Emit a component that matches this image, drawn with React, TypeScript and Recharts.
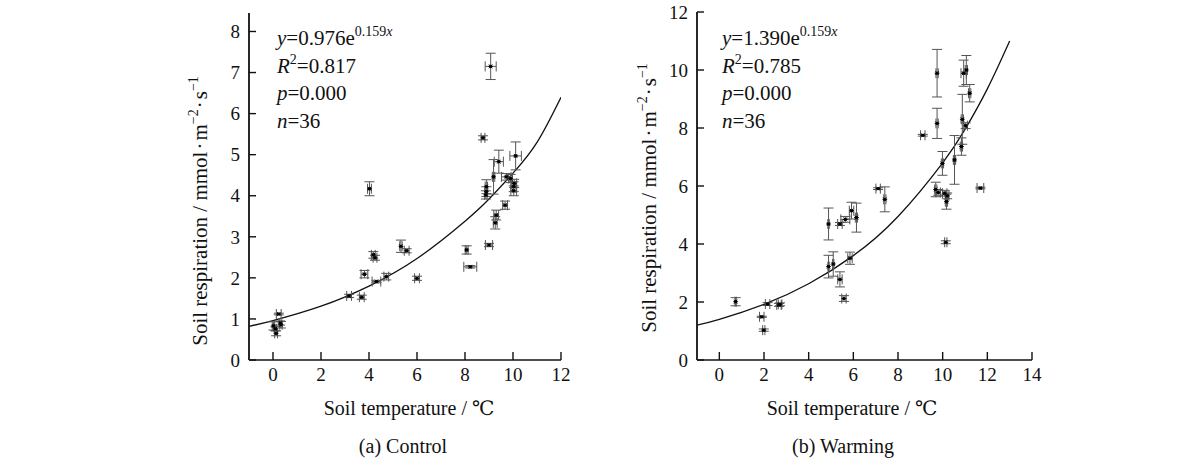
import React from "react";
import {
  ComposedChart,
  Scatter,
  Line,
  XAxis,
  YAxis,
  ErrorBar,
} from "recharts";

// (a) Control – soil temperature (°C) and soil respiration, with error bars
const ctrlTemp = [9.07, 8.75, 9.41, 10.11, 9.19, 8.89, 8.89, 8.87, 9.72, 9.9, 10.03, 10.03, 9.67, 9.3, 9.26, 9.0, 8.07, 8.22,
  4.02, 5.33, 5.57, 4.18, 4.25, 3.81, 4.72, 4.31, 6.0, 3.17, 3.7, 0.24, 0.02, 0.33, 0.13, 0.1, 0.3, 10.05];
const ctrlResp = [7.15, 5.41, 4.83, 4.97, 4.46, 4.22, 4.1, 4.02, 4.46, 4.42, 4.22, 4.12, 3.77, 3.53, 3.34, 2.8, 2.68, 2.27,
  4.17, 2.77, 2.66, 2.56, 2.49, 2.09, 2.03, 1.91, 1.99, 1.56, 1.53, 1.12, 0.83, 0.86, 0.65, 0.76, 0.9, 4.3];
const ctrlTempErr = [0.23, 0.08, 0.19, 0.24, 0.05, 0.05, 0.05, 0.05, 0.2, 0.08, 0.12, 0.12, 0.1, 0.1, 0.08, 0.15, 0.06, 0.27,
  0.08, 0.05, 0.1, 0.08, 0.08, 0.14, 0.1, 0.18, 0.1, 0.1, 0.1, 0.1, 0.05, 0.05, 0.06, 0.05, 0.04, 0.1];
const ctrlRespErr = [0.32, 0.05, 0.28, 0.34, 0.42, 0.17, 0.12, 0.1, 0.08, 0.1, 0.12, 0.12, 0.1, 0.12, 0.15, 0.04, 0.1, 0.03,
  0.17, 0.15, 0.05, 0.08, 0.06, 0.09, 0.08, 0.03, 0.05, 0.04, 0.05, 0.02, 0.1, 0.08, 0.06, 0.05, 0.05, 0.1];
const ctrlCurveT = [-1, 0, 2, 4, 6, 8, 9, 10, 11, 12];
const ctrlCurveR = [0.82, 0.96, 1.31, 1.8, 2.47, 3.38, 3.92, 4.55, 5.3, 6.4];

// (b) Warming
const warmTemp = [9.75, 9.75, 9.11, 11.06, 10.94, 11.21, 10.88, 11.03, 10.84, 10.53, 9.99, 11.69, 9.69, 9.8, 10.09, 10.2, 10.17, 10.14,
  7.11, 7.41, 0.73, 2.16, 2.67, 2.72, 1.9, 1.99, 4.89, 5.4, 5.64, 5.92, 6.14, 4.89, 5.1, 5.4, 5.58, 5.85];
const warmResp = [9.89, 8.16, 7.75, 10.0, 9.89, 9.2, 8.3, 8.08, 7.36, 6.9, 6.78, 5.93, 5.88, 5.78, 5.75, 5.66, 5.46, 4.06,
  5.91, 5.54, 2.01, 1.93, 1.9, 1.92, 1.49, 1.03, 4.69, 4.69, 4.85, 5.15, 4.91, 3.22, 3.31, 2.78, 2.12, 3.51];
const warmTempErr = [0.05, 0.05, 0.1, 0.05, 0.12, 0.05, 0.05, 0.08, 0.05, 0.05, 0.05, 0.15, 0.05, 0.1, 0.1, 0.08, 0.05, 0.05,
  0.1, 0.05, 0.03, 0.1, 0.1, 0.08, 0.1, 0.05, 0.03, 0.1, 0.2, 0.1, 0.05, 0.03, 0.03, 0.1, 0.1, 0.1];
const warmRespErr = [0.82, 0.52, 0.03, 0.5, 0.45, 0.3, 0.86, 0.1, 0.3, 0.84, 0.41, 0.03, 0.25, 0.1, 0.1, 0.1, 0.26, 0.05,
  0.03, 0.43, 0.14, 0.05, 0.05, 0.05, 0.02, 0.04, 0.55, 0.05, 0.1, 0.29, 0.5, 0.39, 0.42, 0.26, 0.1, 0.21];
const warmCurveT = [-1, 0, 2, 4, 6, 8, 10, 11, 12, 13];
const warmCurveR = [1.2, 1.4, 1.92, 2.63, 3.6, 4.95, 6.8, 7.95, 9.35, 11.0];

const ctrlXTicks = [0, 2, 4, 6, 8, 10, 12];
const ctrlYTicks = [0, 1, 2, 3, 4, 5, 6, 7, 8];
const warmXTicks = [0, 2, 4, 6, 8, 10, 12, 14];
const warmYTicks = [0, 2, 4, 6, 8, 10, 12];

const ctrlStats = ["0.976", "0.817", "0.000", "36"];
const warmStats = ["1.390", "0.785", "0.000", "36"];

const FONT = "Liberation Serif, Times New Roman, Tinos, DejaVu Serif, serif";

const toPoints = (t: number[], r: number[], et: number[], er: number[]) =>
  t.map((x, i) => ({ x, y: r[i], ex: et[i], ey: er[i] }));
const toCurve = (t: number[], r: number[]) => t.map((x, i) => ({ x, y: r[i] }));

const Marker = (props: any) => {
  const { cx, cy } = props;
  if (cx == null || cy == null) return null;
  const s = 2.4;
  return (
    <g>
      <path
        d={`M${cx - s},${cy}L${cx + s},${cy}M${cx - s * 0.7},${cy - s * 0.8}L${cx + s * 0.7},${cy + s * 0.8}M${cx - s * 0.7},${cy + s * 0.8}L${cx + s * 0.7},${cy - s * 0.8}`}
        stroke="#111"
        strokeWidth={1}
      />
      <circle cx={cx} cy={cy} r={1.6} fill="#000" />
    </g>
  );
};

type PanelProps = {
  points: { x: number; y: number; ex: number; ey: number }[];
  curve: { x: number; y: number }[];
  xDomain: [number, number];
  yDomain: [number, number];
  xTicks: number[];
  yTicks: number[];
  margin: { top: number; right: number; bottom: number; left: number };
};

function Panel({ points, curve, xDomain, yDomain, xTicks, yTicks, margin }: PanelProps) {
  const tickStyle = { fontSize: 19, fill: "#111", style: { fontFamily: FONT } };
  return (
    <ComposedChart width={600} height={465} margin={margin} style={{ fontFamily: FONT }}>
      <XAxis
        type="number"
        dataKey="x"
        domain={xDomain}
        ticks={xTicks}
        allowDataOverflow
        height={30}
        axisLine={{ stroke: "#111", strokeWidth: 1.6 }}
        tickLine={{ stroke: "#111", strokeWidth: 1.4 }}
        tickSize={-8}
        tickMargin={16}
        tick={tickStyle}
        interval={0}
      />
      <YAxis
        type="number"
        dataKey="y"
        domain={yDomain}
        ticks={yTicks}
        allowDataOverflow
        width={40}
        axisLine={{ stroke: "#111", strokeWidth: 1.8 }}
        tickLine={{ stroke: "#111", strokeWidth: 1.4 }}
        tickSize={-7}
        tickMargin={16}
        tick={tickStyle}
        interval={0}
      />
      <Line
        data={curve}
        dataKey="y"
        type="natural"
        stroke="#111"
        strokeWidth={1.3}
        dot={false}
        activeDot={false}
        isAnimationActive={false}
      />
      <Scatter data={points} dataKey="y" shape={<Marker />} isAnimationActive={false}>
        <ErrorBar dataKey="ey" direction="y" width={5} stroke="#555" strokeWidth={1} isAnimationActive={false} />
        <ErrorBar dataKey="ex" direction="x" width={5} stroke="#555" strokeWidth={1} isAnimationActive={false} />
      </Scatter>
    </ComposedChart>
  );
}

function Stats({ x, y, vals }: { x: number; y: number; vals: string[] }) {
  const gap = 27.5;
  return (
    <text x={x} y={y} style={{ fontFamily: FONT, fontSize: 21 }} fill="#111">
      <tspan x={x} y={y}>
        <tspan fontStyle="italic">y</tspan>={vals[0]}e
        <tspan fontSize={14} dy={-9}>0.159</tspan>
        <tspan fontSize={14} fontStyle="italic">x</tspan>
      </tspan>
      <tspan x={x} y={y + gap}>
        <tspan fontStyle="italic">R</tspan>
        <tspan fontSize={14} dy={-9}>2</tspan>
        <tspan dy={9}>={vals[1]}</tspan>
      </tspan>
      <tspan x={x} y={y + gap * 2}>
        <tspan fontStyle="italic">p</tspan>={vals[2]}
      </tspan>
      <tspan x={x} y={y + gap * 3}>
        <tspan fontStyle="italic">n</tspan>={vals[3]}
      </tspan>
    </text>
  );
}

function YLabel({ x, y }: { x: number; y: number }) {
  return (
    <text
      x={x}
      y={y}
      transform={`rotate(-90 ${x} ${y})`}
      textAnchor="middle"
      style={{ fontFamily: FONT, fontSize: 21 }}
      fill="#111"
    >
      Soil respiration / mmol
      <tspan dx={2}>·</tspan>
      <tspan dx={2}>m</tspan>
      <tspan fontSize={14} dy={-9}>−2</tspan>
      <tspan dy={9} dx={1}>·</tspan>
      <tspan dx={2}>s</tspan>
      <tspan fontSize={14} dy={-9}>−1</tspan>
    </text>
  );
}

export default function App() {
  const ctrlPoints = toPoints(ctrlTemp, ctrlResp, ctrlTempErr, ctrlRespErr);
  const warmPoints = toPoints(warmTemp, warmResp, warmTempErr, warmRespErr);
  const ctrlCurve = toCurve(ctrlCurveT, ctrlCurveR);
  const warmCurve = toCurve(warmCurveT, warmCurveR);
  const textStyle = { style: { fontFamily: FONT, fontSize: 20 }, fill: "#111" };

  return (
    <div style={{ position: "absolute", left: 0, top: 0, width: 1200, height: 465, background: "#fff", fontFamily: FONT }}>
      <div style={{ position: "absolute", left: 0, top: 0 }}>
        <Panel
          points={ctrlPoints}
          curve={ctrlCurve}
          xDomain={[-1, 12]}
          yDomain={[0, 8.45]}
          xTicks={ctrlXTicks}
          yTicks={ctrlYTicks}
          margin={{ top: 13, right: 39, bottom: 75, left: 209 }}
        />
      </div>
      <div style={{ position: "absolute", left: 600, top: 0 }}>
        <Panel
          points={warmPoints}
          curve={warmCurve}
          xDomain={[-1, 14]}
          yDomain={[0, 12]}
          xTicks={warmXTicks}
          yTicks={warmYTicks}
          margin={{ top: 12, right: 168, bottom: 75, left: 57 }}
        />
      </div>
      <svg
        width={1200}
        height={465}
        style={{ position: "absolute", left: 0, top: 0, pointerEvents: "none" }}
      >
        <Stats x={277} y={45} vals={ctrlStats} />
        <Stats x={722} y={45} vals={warmStats} />
        <YLabel x={207} y={211} />
        <YLabel x={656} y={198} />
        <text x={409} y={415} textAnchor="middle" {...textStyle}>Soil temperature / ℃</text>
        <text x={852} y={415} textAnchor="middle" {...textStyle}>Soil temperature / ℃</text>
        <text x={403} y={453} textAnchor="middle" {...textStyle}>(a) Control</text>
        <text x={843} y={453} textAnchor="middle" {...textStyle}>(b) Warming</text>
      </svg>
    </div>
  );
}
